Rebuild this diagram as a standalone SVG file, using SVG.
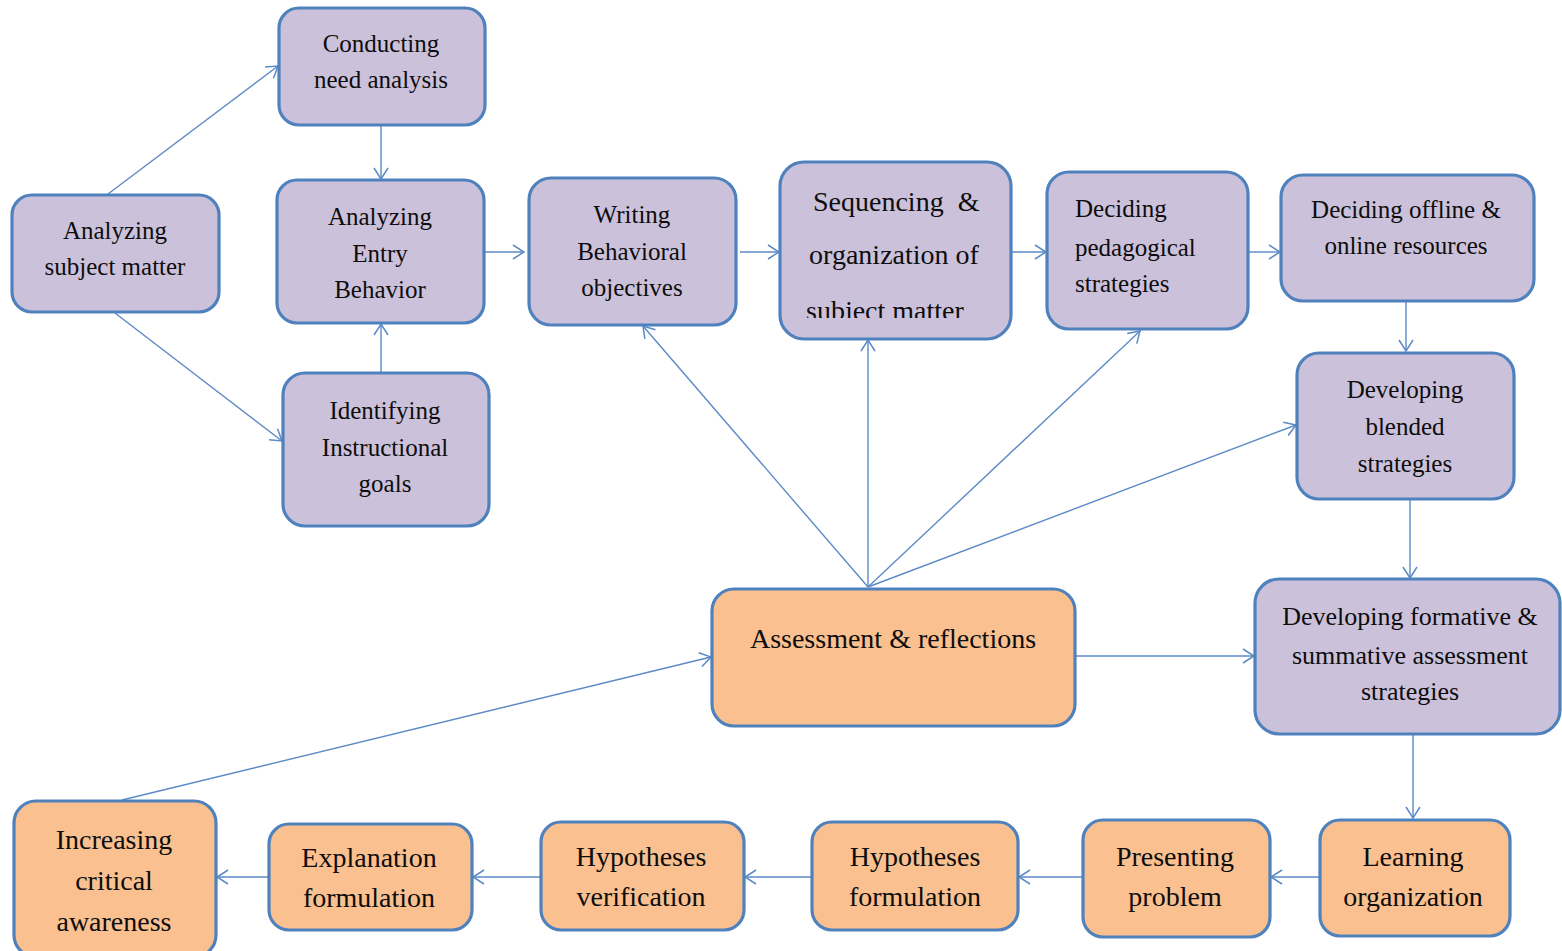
<svg xmlns="http://www.w3.org/2000/svg" width="1562" height="951" viewBox="0 0 1562 951" font-family="Liberation Serif, Times New Roman, Tinos, DejaVu Serif, serif">
  <defs>
    <style>
      .box { stroke: #4F81BD; stroke-width: 3.2; }
      .lav { fill: #CCC1DA; }
      .org { fill: #FAC090; }
      .t { text-anchor: middle; fill: #0d0d0d; }
      .l { text-anchor: start; fill: #0d0d0d; }
      .s25 { font-size: 25px; }
      .s26 { font-size: 26px; }
      .s28 { font-size: 28px; }
      .conn line { stroke: #5B8AC6; stroke-width: 1.4; fill: none; marker-end: url(#arr); }
    </style>
    <marker id="arr" viewBox="0 0 14 16" refX="13" refY="8" markerWidth="14" markerHeight="16" markerUnits="userSpaceOnUse" orient="auto">
      <path d="M2,1 L13,8 L2,15" fill="none" stroke="#5B8AC6" stroke-width="1.5"/>
    </marker>
    <clipPath id="seqClip">
      <rect x="780" y="160" width="232" height="158"/>
    </clipPath>
  </defs>

  <rect width="1562" height="951" fill="#ffffff"/>

  <!-- connectors -->
  <g id="connectors" class="conn">
    <line x1="108" y1="194" x2="278" y2="66"/>
    <line x1="115" y1="313" x2="282" y2="441"/>
    <line x1="381" y1="126" x2="381" y2="179"/>
    <line x1="381" y1="372" x2="381" y2="324"/>
    <line x1="485" y1="252" x2="524" y2="252"/>
    <line x1="740" y1="252" x2="779" y2="252"/>
    <line x1="1012" y1="252" x2="1046" y2="252"/>
    <line x1="1249" y1="252" x2="1280" y2="252"/>
    <line x1="1406" y1="302" x2="1406" y2="351"/>
    <line x1="1410" y1="500" x2="1410" y2="578"/>
    <line x1="1413" y1="735" x2="1413" y2="818"/>
    <line x1="1319" y1="877" x2="1271" y2="877"/>
    <line x1="1082" y1="877" x2="1019" y2="877"/>
    <line x1="811" y1="877" x2="745" y2="877"/>
    <line x1="540" y1="877" x2="473" y2="877"/>
    <line x1="268" y1="877" x2="217" y2="877"/>
    <line x1="122" y1="800" x2="711" y2="657"/>
    <line x1="1076" y1="656" x2="1254" y2="656"/>
    <line x1="868" y1="587" x2="643" y2="326"/>
    <line x1="868" y1="587" x2="868" y2="340"/>
    <line x1="868" y1="587" x2="1140" y2="331"/>
    <line x1="868" y1="587" x2="1296" y2="425"/>
  </g>

  <!-- design-phase nodes -->
  <g id="n-conducting">
    <rect class="box lav" x="279" y="8" width="206" height="117" rx="20"/>
    <text class="t s25" x="381" y="52">Conducting</text>
    <text class="t s25" x="381" y="88">need analysis</text>
  </g>
  <g id="n-subject">
    <rect class="box lav" x="12" y="195" width="207" height="117" rx="20"/>
    <text class="t s25" x="115" y="239">Analyzing</text>
    <text class="t s25" x="115" y="275">subject matter</text>
  </g>
  <g id="n-entry">
    <rect class="box lav" x="277" y="180" width="207" height="143" rx="20"/>
    <text class="t s25" x="380" y="225">Analyzing</text>
    <text class="t s25" x="380" y="262">Entry</text>
    <text class="t s25" x="380" y="298">Behavior</text>
  </g>
  <g id="n-goals">
    <rect class="box lav" x="283" y="373" width="206" height="153" rx="22"/>
    <text class="t s25" x="385" y="419">Identifying</text>
    <text class="t s25" x="385" y="456">Instructional</text>
    <text class="t s25" x="385" y="492">goals</text>
  </g>
  <g id="n-objectives">
    <rect class="box lav" x="529" y="178" width="207" height="147" rx="22"/>
    <text class="t s25" x="632" y="223">Writing</text>
    <text class="t s25" x="632" y="260">Behavioral</text>
    <text class="t s25" x="632" y="296">objectives</text>
  </g>
  <g id="n-sequencing">
    <rect class="box lav" x="780" y="162" width="231" height="177" rx="24"/>
    <text class="l s28" x="813" y="211" xml:space="preserve">Sequencing  &amp;</text>
    <text class="t s28" x="894" y="264">organization of</text>
    <text class="l s28" x="806" y="320" clip-path="url(#seqClip)">subject matter</text>
  </g>
  <g id="n-pedagogical">
    <rect class="box lav" x="1047" y="172" width="201" height="157" rx="22"/>
    <text class="l s25" x="1075" y="217">Deciding</text>
    <text class="l s25" x="1075" y="256">pedagogical</text>
    <text class="l s25" x="1075" y="292">strategies</text>
  </g>
  <g id="n-resources">
    <rect class="box lav" x="1281" y="175" width="253" height="126" rx="22"/>
    <text class="t s25" x="1406" y="218">Deciding offline &amp;</text>
    <text class="t s25" x="1406" y="254">online resources</text>
  </g>
  <g id="n-blended">
    <rect class="box lav" x="1297" y="353" width="217" height="146" rx="22"/>
    <text class="t s25" x="1405" y="398">Developing</text>
    <text class="t s25" x="1405" y="435">blended</text>
    <text class="t s25" x="1405" y="472">strategies</text>
  </g>
  <g id="n-assessment-strategies">
    <rect class="box lav" x="1255" y="579" width="305" height="155" rx="24"/>
    <text class="t s26" x="1410" y="625">Developing formative &amp;</text>
    <text class="t s26" x="1410" y="664">summative assessment</text>
    <text class="t s26" x="1410" y="700">strategies</text>
  </g>

  <!-- central hub -->
  <g id="n-reflections">
    <rect class="box org" x="712" y="589" width="363" height="137" rx="22"/>
    <text class="t s28" x="893" y="648">Assessment &amp; reflections</text>
  </g>

  <!-- inquiry-cycle nodes -->
  <g id="n-learning">
    <rect class="box org" x="1320" y="820" width="190" height="116" rx="20"/>
    <text class="t s28" x="1413" y="866">Learning</text>
    <text class="t s28" x="1413" y="906">organization</text>
  </g>
  <g id="n-problem">
    <rect class="box org" x="1083" y="820" width="187" height="117" rx="20"/>
    <text class="t s28" x="1175" y="866">Presenting</text>
    <text class="t s28" x="1175" y="906">problem</text>
  </g>
  <g id="n-hyp-formulation">
    <rect class="box org" x="812" y="822" width="206" height="108" rx="20"/>
    <text class="t s28" x="915" y="866">Hypotheses</text>
    <text class="t s28" x="915" y="906">formulation</text>
  </g>
  <g id="n-hyp-verification">
    <rect class="box org" x="541" y="822" width="203" height="108" rx="20"/>
    <text class="t s28" x="641" y="866">Hypotheses</text>
    <text class="t s28" x="641" y="906">verification</text>
  </g>
  <g id="n-explanation">
    <rect class="box org" x="269" y="824" width="203" height="106" rx="20"/>
    <text class="t s28" x="369" y="867">Explanation</text>
    <text class="t s28" x="369" y="907">formulation</text>
  </g>
  <g id="n-awareness">
    <rect class="box org" x="14" y="801" width="202" height="156" rx="22"/>
    <text class="t s28" x="114" y="849">Increasing</text>
    <text class="t s28" x="114" y="890">critical</text>
    <text class="t s28" x="114" y="931">awareness</text>
  </g>
</svg>
